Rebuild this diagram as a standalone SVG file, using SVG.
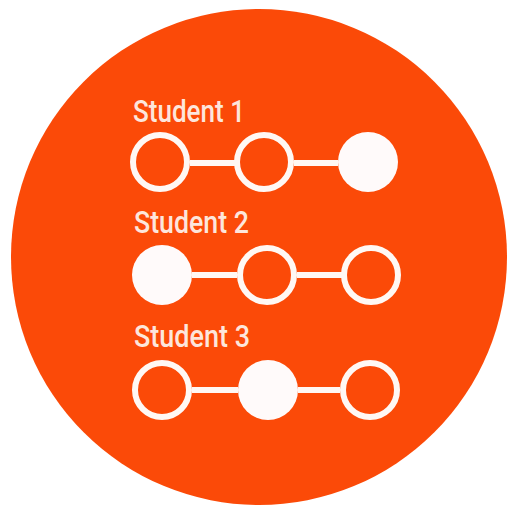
<svg xmlns="http://www.w3.org/2000/svg" width="510" height="512" viewBox="0 0 510 512">
<style>
.lbl{font-family:"Roboto","Liberation Sans",sans-serif;font-size:31px;font-weight:500;fill:#fde6dc}
.ring{fill:none;stroke:#fff8f4;stroke-width:6}
.dot{fill:#fffafa}
.link{stroke:#fff8f4;stroke-width:6}
</style>
<rect width="510" height="512" fill="#ffffff"/>
<circle id="bg" cx="259" cy="257" r="248" fill="#fb4a08"/>
<g id="connectors">
<line class="link" x1="190" y1="163" x2="235" y2="163"/>
<line class="link" x1="294" y1="163" x2="338" y2="163"/>
<line class="link" x1="192" y1="275" x2="237" y2="275"/>
<line class="link" x1="297" y1="275" x2="342" y2="275"/>
<line class="link" x1="192" y1="390" x2="238" y2="390"/>
<line class="link" x1="298" y1="390" x2="340" y2="390"/>
</g>
<g id="student1">
<text class="lbl" x="133" y="122" textLength="112" lengthAdjust="spacingAndGlyphs">Student 1</text>
<circle class="ring" cx="160" cy="162" r="27"/>
<circle class="ring" cx="264" cy="162" r="27"/>
<circle class="dot" cx="368" cy="162" r="30"/>
</g>
<g id="student2">
<text class="lbl" x="134" y="233" textLength="115" lengthAdjust="spacingAndGlyphs">Student 2</text>
<circle class="dot" cx="162" cy="275" r="30"/>
<circle class="ring" cx="267" cy="275" r="27"/>
<circle class="ring" cx="371" cy="275" r="27"/>
</g>
<g id="student3">
<text class="lbl" x="134" y="347" textLength="116" lengthAdjust="spacingAndGlyphs">Student 3</text>
<circle class="ring" cx="162" cy="390" r="27"/>
<circle class="dot" cx="268" cy="390" r="30"/>
<circle class="ring" cx="370" cy="390" r="27"/>
</g>
</svg>
